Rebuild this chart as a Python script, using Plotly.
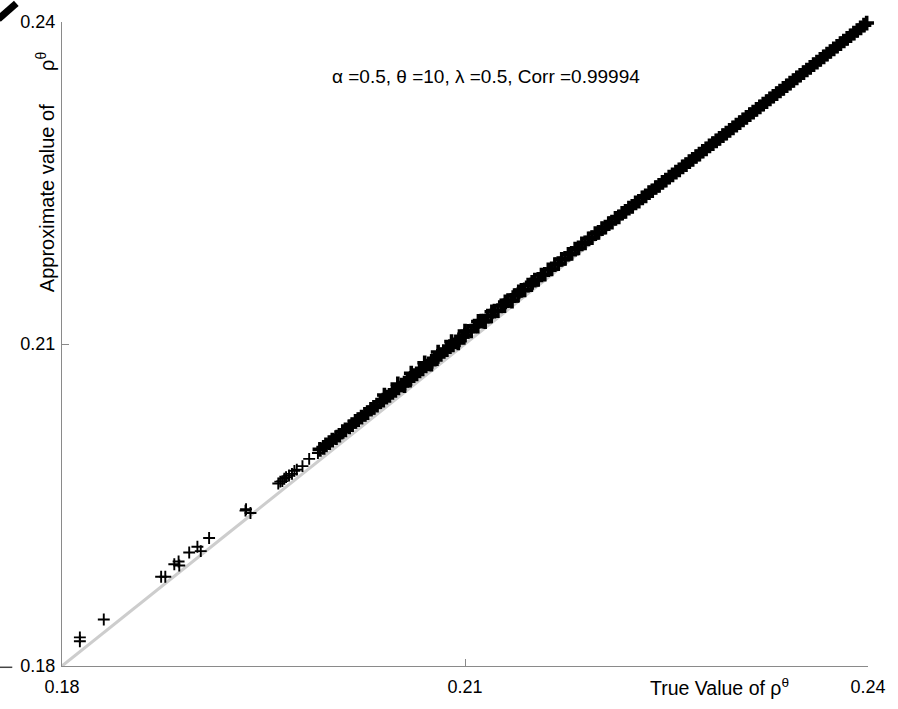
import plotly.graph_objects as go

# Sparse lower-range points (true value, approximation)
low_true = [0.18133, 0.18133, 0.18311, 0.18738, 0.18769, 0.18836, 0.18868, 0.18873,
            0.18947, 0.19008, 0.19033, 0.19095, 0.19366, 0.19403, 0.19370]
low_appr = [0.18267, 0.18230, 0.18433, 0.18831, 0.18831, 0.18948, 0.18973, 0.18936,
            0.19058, 0.19111, 0.19070, 0.19193, 0.19448, 0.19426, 0.19462]

# Middle range
mid_true = [0.19610, 0.19625, 0.19640, 0.19655, 0.19668, 0.19690, 0.19712, 0.19730, 0.19748,
            0.19790, 0.19840, 0.19905, 0.19920, 0.19948, 0.19965, 0.19990, 0.20012, 0.20040,
            0.20065, 0.20090, 0.20110, 0.20138, 0.20160, 0.20185, 0.20205, 0.20230, 0.20255,
            0.20275, 0.20300, 0.20322, 0.20345, 0.20370, 0.20392, 0.20415, 0.20438, 0.20460,
            0.20482, 0.20505, 0.20528, 0.20550, 0.20572, 0.20595, 0.20618, 0.20640, 0.20662,
            0.20685, 0.20708, 0.20730, 0.20752, 0.20775, 0.20798, 0.20820, 0.20842, 0.20865,
            0.20888, 0.20910, 0.20932, 0.20955, 0.20978, 0.21000]
mid_appr = [0.19700, 0.19718, 0.19722, 0.19745, 0.19760, 0.19775, 0.19790, 0.19818, 0.19830,
            0.19862, 0.19930, 0.19985, 0.20018, 0.20036, 0.20060, 0.20082, 0.20105, 0.20128,
            0.20150, 0.20185, 0.20200, 0.20228, 0.20248, 0.20280, 0.20295, 0.20318, 0.20345,
            0.20360, 0.20392, 0.20410, 0.20430, 0.20462, 0.20478, 0.20505, 0.20522, 0.20550,
            0.20568, 0.20590, 0.20618, 0.20635, 0.20660, 0.20680, 0.20705, 0.20722, 0.20750,
            0.20768, 0.20795, 0.20815, 0.20838, 0.20860, 0.20885, 0.20902, 0.20930, 0.20948,
            0.20975, 0.20992, 0.21020, 0.21038, 0.21065, 0.21082]

# Scattered points around 0.205-0.215 that widen the band there
spread_true = [0.20400, 0.20500, 0.20550, 0.20600, 0.20700, 0.20750, 0.20800, 0.20900,
               0.20950, 0.21000, 0.21100, 0.21150, 0.21200, 0.21300, 0.21350, 0.21400, 0.21500]
spread_appr = [0.20525, 0.20628, 0.20612, 0.20728, 0.20825, 0.20812, 0.20925, 0.21022,
               0.21010, 0.21120, 0.21210, 0.21208, 0.21300, 0.21392, 0.21400, 0.21485, 0.21575]

# Upper range (dense)
high_true = [0.21022, 0.21046, 0.21071, 0.21095, 0.21121, 0.21144, 0.21170, 0.21195, 0.21219,
             0.21245, 0.21270, 0.21294, 0.21320, 0.21344, 0.21369, 0.21395, 0.21420, 0.21444,
             0.21470, 0.21494, 0.21520, 0.21545, 0.21569, 0.21594, 0.21620, 0.21645, 0.21669,
             0.21694, 0.21720, 0.21745, 0.21770, 0.21794, 0.21820, 0.21845, 0.21870, 0.21894,
             0.21920, 0.21945, 0.21970, 0.21994, 0.22020, 0.22045, 0.22070, 0.22094, 0.22120,
             0.22145, 0.22170, 0.22195, 0.22220, 0.22245, 0.22270, 0.22294, 0.22320, 0.22345,
             0.22370, 0.22394, 0.22420, 0.22445, 0.22470, 0.22495, 0.22520, 0.22545, 0.22570,
             0.22595, 0.22620, 0.22645, 0.22670, 0.22695, 0.22720, 0.22745, 0.22770, 0.22795,
             0.22820, 0.22845, 0.22870, 0.22895, 0.22920, 0.22945, 0.22970, 0.22995, 0.23020,
             0.23045, 0.23070, 0.23095, 0.23120, 0.23145, 0.23170, 0.23195, 0.23220, 0.23245,
             0.23270, 0.23295, 0.23320, 0.23345, 0.23370, 0.23395, 0.23420, 0.23445, 0.23470,
             0.23495, 0.23520, 0.23545, 0.23570, 0.23595, 0.23620, 0.23645, 0.23670, 0.23695,
             0.23720, 0.23745, 0.23770, 0.23795, 0.23820, 0.23845, 0.23870, 0.23895, 0.23920,
             0.23945, 0.23970, 0.23990, 0.24003]
high_appr = [0.21117, 0.21121, 0.21166, 0.21167, 0.21213, 0.21214, 0.21260, 0.21263, 0.21307,
             0.21311, 0.21356, 0.21358, 0.21404, 0.21406, 0.21451, 0.21457, 0.21500, 0.21504,
             0.21548, 0.21552, 0.21596, 0.21603, 0.21643, 0.21650, 0.21692, 0.21699, 0.21739,
             0.21748, 0.21788, 0.21797, 0.21836, 0.21844, 0.21884, 0.21895, 0.21932, 0.21942,
             0.21980, 0.21991, 0.22028, 0.22040, 0.22074, 0.22089, 0.22122, 0.22136, 0.22170,
             0.22185, 0.22218, 0.22235, 0.22266, 0.22283, 0.22314, 0.22330, 0.22362, 0.22380,
             0.22410, 0.22428, 0.22458, 0.22477, 0.22506, 0.22526, 0.22554, 0.22575, 0.22602,
             0.22623, 0.22650, 0.22672, 0.22699, 0.22720, 0.22747, 0.22769, 0.22796, 0.22818,
             0.22845, 0.22867, 0.22893, 0.22916, 0.22942, 0.22965, 0.22991, 0.23014, 0.23040,
             0.23063, 0.23089, 0.23112, 0.23137, 0.23161, 0.23186, 0.23210, 0.23235, 0.23259,
             0.23284, 0.23308, 0.23333, 0.23357, 0.23382, 0.23406, 0.23431, 0.23455, 0.23480,
             0.23504, 0.23529, 0.23553, 0.23578, 0.23602, 0.23627, 0.23651, 0.23676, 0.23700,
             0.23725, 0.23749, 0.23774, 0.23798, 0.23823, 0.23847, 0.23872, 0.23896, 0.23921,
             0.23946, 0.23970, 0.23990, 0.24025]

diag = [0.18, 0.24]
tick_vals = [0.18, 0.21, 0.24]
tick_text = ["0.18", "0.21", "0.24"]

params_text = "\u03b1 =0.5, \u03b8 =10, \u03bb =0.5, Corr =0.99994"
x_title = "True Value of \u03c1<sup>\u03b8</sup>"
y_title = "Approximate value of" + "\u00a0" * 6 + "\u03c1<sup>\u03b8</sup>"

FONT = "Liberation Sans, Arial, Helvetica, sans-serif"
AXIS_GRAY = "#8a8a8a"

fig = go.Figure()

# Reference line y = x
fig.add_trace(go.Scatter(
    x=diag, y=diag, mode="lines",
    line=dict(color="#cdcdcd", width=3),
    hoverinfo="skip", showlegend=False,
))

# Isolated points: thin crosses
fig.add_trace(go.Scatter(
    x=low_true + mid_true[:12], y=low_appr + mid_appr[:12], mode="markers",
    marker=dict(symbol="cross-thin", size=8.5, color="black",
                line=dict(color="black", width=1.9)),
    cliponaxis=False, showlegend=False,
))

# Dense part of the cloud
fig.add_trace(go.Scatter(
    x=mid_true[12:] + spread_true + high_true,
    y=mid_appr[12:] + spread_appr + high_appr, mode="markers",
    marker=dict(symbol="cross-thin", size=10.5, color="black",
                line=dict(color="black", width=3.6)),
    cliponaxis=False, showlegend=False,
))

axis_common = dict(
    range=[0.18, 0.24], tickvals=tick_vals, ticktext=tick_text,
    showgrid=False, zeroline=False, showline=True, linecolor=AXIS_GRAY, linewidth=1,
    ticks="inside", ticklen=7, tickcolor=AXIS_GRAY, tickwidth=1,
    tickfont=dict(family=FONT, size=18, color="black"),
)

fig.update_layout(
    width=898, height=709,
    margin=dict(l=62, r=25, t=17, b=40),
    paper_bgcolor="white", plot_bgcolor="white",
    xaxis=dict(**axis_common, ticklabelstandoff=4),
    yaxis=dict(**axis_common, ticklabelstandoff=2),
    font=dict(family=FONT, color="black"),
    annotations=[
        dict(text=params_text, xref="paper", yref="paper", x=0.5265, y=0.916,
             xanchor="center", yanchor="middle", showarrow=False,
             font=dict(family=FONT, size=19, color="black")),
        dict(text=x_title, xref="paper", yref="paper",
             x=0.904, y=-0.033, xanchor="right", yanchor="middle", showarrow=False,
             font=dict(family=FONT, size=19.5, color="black")),
        dict(text=y_title, xref="paper", yref="paper",
             x=-0.021, y=0.5767, xanchor="center", yanchor="bottom", textangle=-90,
             showarrow=False, font=dict(family=FONT, size=20, color="black")),
    ],
    shapes=[
        # stray tick mark left of the lower y label
        dict(type="line", xref="paper", yref="paper", x0=-0.0770, x1=-0.0617,
             y0=-0.002, y1=-0.002, line=dict(color="#444444", width=1.5)),
        # stroke entering the top-left corner
        dict(type="line", xref="paper", yref="paper", x0=-0.0789, x1=-0.0567,
             y0=1.0046, y1=1.0291, line=dict(color="black", width=7)),
    ],
)

fig.write_html("out.html")
